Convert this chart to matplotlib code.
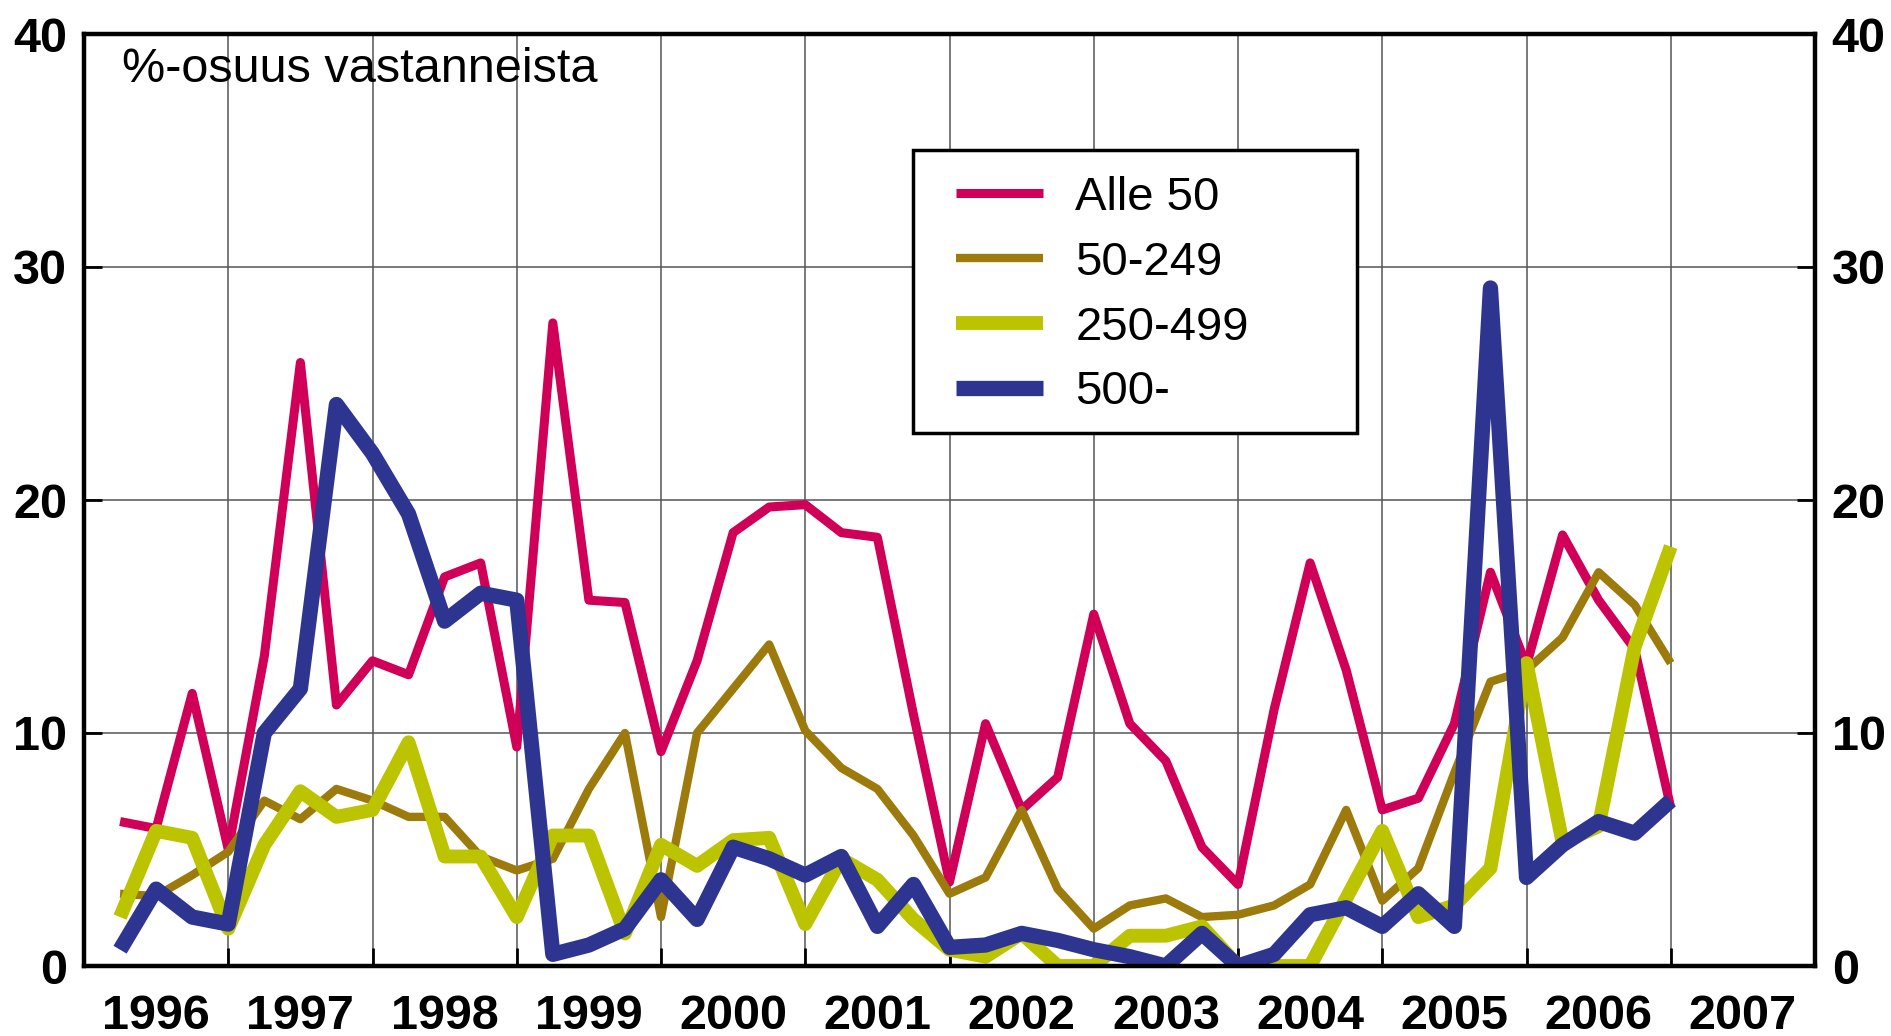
import matplotlib
matplotlib.use("Agg")
import matplotlib.pyplot as plt
from matplotlib.patches import Rectangle
from matplotlib.ticker import FixedLocator, NullFormatter, FixedFormatter

plt.rcParams['font.family'] = ['Liberation Sans', 'DejaVu Sans']

# Quarterly observations, 1996 Q1 .. 2006 Q4 (plotted at end of each quarter)
years = list(range(1996, 2007))
quarters = [0.25, 0.5, 0.75, 1.0]

alle_50 = [6.2, 5.9, 11.7, 5.0,
           13.3, 25.9, 11.2, 13.1,
           12.5, 16.7, 17.3, 9.4,
           27.6, 15.7, 15.6, 9.2,
           13.1, 18.6, 19.7, 19.8,
           18.6, 18.4, 10.8, 3.6,
           10.4, 6.7, 8.1, 15.1,
           10.4, 8.8, 5.1, 3.5,
           11.0, 17.3, 12.7, 6.7,
           7.2, 10.4, 16.9, 12.9,
           18.5, 15.7, 13.6, 6.8]

s50_249 = [3.1, 3.0, 3.9, 4.9,
           7.1, 6.3, 7.6, 7.1,
           6.4, 6.4, 4.7, 4.1,
           4.6, 7.6, 10.0, 2.1,
           10.0, 11.9, 13.8, 10.1,
           8.5, 7.6, 5.6, 3.1,
           3.8, 6.7, 3.3, 1.6,
           2.6, 2.9, 2.1, 2.2,
           2.6, 3.5, 6.7, 2.8,
           4.2, 8.3, 12.2, 12.7,
           14.1, 16.9, 15.5, 13.0]

s250_499 = [2.1, 5.8, 5.5, 1.6,
            5.2, 7.5, 6.4, 6.7,
            9.6, 4.7, 4.7, 2.1,
            5.6, 5.6, 1.4, 5.2,
            4.3, 5.4, 5.5, 1.8,
            4.6, 3.7, 2.0, 0.7,
            0.4, 1.4, 0.0, 0.0,
            1.3, 1.3, 1.7, 0.0,
            0.0, 0.0, 2.9, 5.8,
            2.1, 2.6, 4.2, 13.0,
            5.3, 6.0, 13.7, 18.0]

s500 = [0.7, 3.3, 2.1, 1.8,
        10.0, 11.9, 24.1, 22.0,
        19.4, 14.8, 16.0, 15.7,
        0.5, 0.9, 1.6, 3.7,
        2.0, 5.1, 4.6, 3.9,
        4.7, 1.7, 3.5, 0.8,
        0.9, 1.4, 1.1, 0.7,
        0.4, 0.0, 1.4, 0.0,
        0.5, 2.2, 2.5, 1.7,
        3.1, 1.7, 29.1, 3.8,
        5.2, 6.2, 5.7, 7.1]

series_labels = ['Alle 50', '50-249', '250-499', '500-']
x_tick_labels = [str(y) for y in range(1996, 2008)]
y_ticks = [0, 10, 20, 30, 40]
title_text = '%-osuus vastanneista'

x = [y + q for y in years for q in quarters]

colors = ['#D00058', '#9C7A0C', '#BCC400', '#2E3590']
widths = [6.5, 6.0, 10.0, 11.0]

fig = plt.figure(figsize=(18.91, 10.36), dpi=100)
ax = fig.add_axes([84 / 1891, 70 / 1036, 1731 / 1891, 932 / 1036])

for vals, lab, c, w in zip([alle_50, s50_249, s250_499, s500], series_labels, colors, widths):
    ax.plot(x, vals, color=c, lw=w, label=lab, solid_joinstyle='round', solid_capstyle='butt')

ax.set_xlim(1996, 2008)
ax.set_ylim(0, 40)

# gridlines / ticks at year boundaries, labels at year centres
ax.xaxis.set_major_locator(FixedLocator(list(range(1997, 2008))))
ax.xaxis.set_major_formatter(NullFormatter())
ax.xaxis.set_minor_locator(FixedLocator([y + 0.5 for y in range(1996, 2008)]))
ax.xaxis.set_minor_formatter(FixedFormatter(x_tick_labels))
ax.set_yticks(y_ticks)

ax.tick_params(axis='x', which='major', direction='in', length=13, width=2, color='black')
ax.tick_params(axis='x', which='minor', length=0, pad=20, labelsize=35)
ax.tick_params(axis='y', which='major', direction='in', length=13, width=2,
               left=True, right=True, labelleft=True, labelright=True, labelsize=35, pad=12)
for lab in ax.get_xticklabels(minor=True) + ax.get_yticklabels():
    lab.set_fontweight('bold')

ax.grid(True, which='major', color='#555555', lw=1.1)
ax.set_axisbelow(True)
for sp in ax.spines.values():
    sp.set_linewidth(3.2)
    sp.set_color('black')

ax.text((122 - 84) / 1731, (966 - 82) / 932, title_text,
        transform=ax.transAxes, fontsize=35, va='baseline', ha='left')

# legend (frame drawn separately to reproduce its wide right margin)
frame = Rectangle((913 / 1891, 1 - 433 / 1036), 444 / 1891, 283 / 1036,
                  transform=fig.transFigure, fill=True, facecolor='white',
                  edgecolor='black', lw=2.5, zorder=6, clip_on=False)
ax.add_patch(frame)
leg = ax.legend(loc='upper left', bbox_to_anchor=(956 / 1891, 1 - 176 / 1036),
                bbox_transform=fig.transFigure, frameon=False, fontsize=34,
                handlelength=1.85, handletextpad=0.68, labelspacing=0.44,
                borderpad=0, borderaxespad=0)
leg.set_zorder(7)

fig.savefig('out.png', dpi=100)
